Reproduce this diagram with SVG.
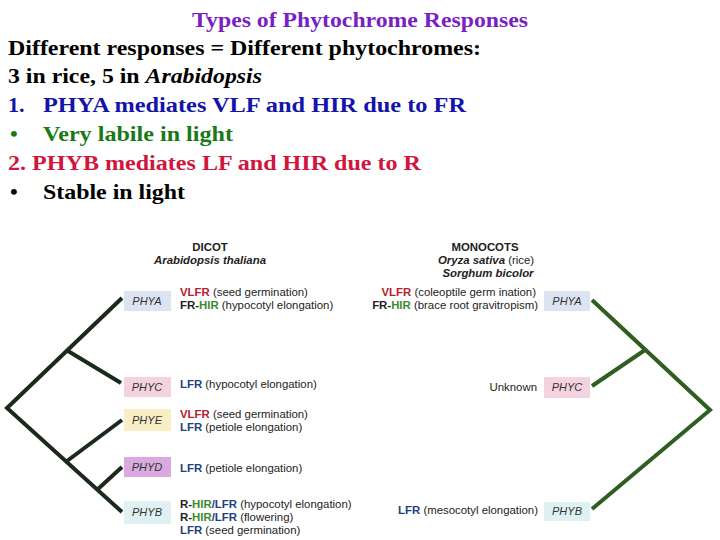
<svg xmlns="http://www.w3.org/2000/svg" width="720" height="540" viewBox="0 0 720 540">
<style>
.h{font-family:"Liberation Serif","Times New Roman",serif;font-weight:bold;font-size:22px}
.s{font-family:"Liberation Sans",Arial,sans-serif;font-size:11.4px;fill:#222}
.b{font-weight:bold}
.red{fill:#b3212d;font-weight:bold}
.grn{fill:#3d8a2e;font-weight:bold}
.blu{fill:#223f7f;font-weight:bold}
.blk{fill:#222;font-weight:bold}
.lab{font-family:"Liberation Sans",Arial,sans-serif;font-size:11px;font-style:italic;fill:#333;text-anchor:middle}
.lt{stroke:#1b2a1c;stroke-width:4;fill:none;stroke-linejoin:miter}
.rt{stroke:#2f5e22;stroke-width:4;fill:none;stroke-linejoin:miter}
</style>
<rect width="720" height="540" fill="#ffffff"/>
<g id="heading">
<text class="h" x="192" y="27" fill="#7a1fc4" textLength="336" lengthAdjust="spacingAndGlyphs">Types of Phytochrome Responses</text>
<text class="h" x="8" y="55" fill="#000" textLength="473" lengthAdjust="spacingAndGlyphs">Different responses = Different phytochromes:</text>
<text class="h" x="8" y="83" fill="#000" textLength="254" lengthAdjust="spacingAndGlyphs">3 in rice, 5 in <tspan font-style="italic">Arabidopsis</tspan></text>
<text class="h" x="8" y="112" fill="#1414a8">1.</text>
<text class="h" x="43" y="112" fill="#1414a8" textLength="423" lengthAdjust="spacingAndGlyphs">PHYA mediates VLF and HIR due to FR</text>
<text class="h" x="10" y="141" fill="#1a7a1a">•</text>
<text class="h" x="43" y="141" fill="#1a7a1a" textLength="190" lengthAdjust="spacingAndGlyphs">Very labile in light</text>
<text class="h" x="8" y="170" fill="#d0163e" textLength="413" lengthAdjust="spacingAndGlyphs">2. PHYB mediates LF and HIR due to R</text>
<text class="h" x="10" y="199" fill="#000">•</text>
<text class="h" x="43" y="199" fill="#000" textLength="142" lengthAdjust="spacingAndGlyphs">Stable in light</text>
</g>
<g id="connectors">
<polyline class="lt" points="122,298 7,408 122,512"/>
<line class="lt" x1="68" y1="351" x2="121" y2="383"/>
<line class="lt" x1="67" y1="461" x2="122" y2="420"/>
<line class="lt" x1="98" y1="489" x2="122" y2="467"/>
<polyline class="rt" points="592,300 710,410 592,509"/>
<line class="rt" x1="645" y1="350" x2="592" y2="386"/>
</g>
<g id="dicot-header">
<text class="s b" x="210" y="251" text-anchor="middle">DICOT</text>
<text class="s b" x="210" y="264" text-anchor="middle" font-style="italic">Arabidopsis thaliana</text>
</g>
<g id="monocot-header">
<text class="s b" x="485" y="251" text-anchor="middle">MONOCOTS</text>
<text class="s" x="486" y="264" text-anchor="middle"><tspan font-style="italic" font-weight="bold">Oryza sativa</tspan> (rice)</text>
<text class="s b" x="488" y="277" text-anchor="middle" font-style="italic">Sorghum bicolor</text>
</g>
<g id="dicot-phya">
<rect x="124" y="291" width="47" height="20" fill="#dce4f2"/>
<text class="lab" x="147" y="305">PHYA</text>
<text class="s" x="180" y="296"><tspan class="red">VLFR</tspan> (seed germination)</text>
<text class="s" x="180" y="309"><tspan class="blk">FR-</tspan><tspan class="grn">HIR</tspan> (hypocotyl elongation)</text>
</g>
<g id="dicot-phyc">
<rect x="124" y="377" width="47" height="20" fill="#f4d2e0"/>
<text class="lab" x="147" y="391">PHYC</text>
<text class="s" x="180" y="388"><tspan class="blu">LFR</tspan> (hypocotyl elongation)</text>
</g>
<g id="dicot-phye">
<rect x="124" y="409" width="47" height="22" fill="#f8efc6"/>
<text class="lab" x="147" y="424">PHYE</text>
<text class="s" x="180" y="418"><tspan class="red">VLFR</tspan> (seed germination)</text>
<text class="s" x="180" y="431"><tspan class="blu">LFR</tspan> (petiole elongation)</text>
</g>
<g id="dicot-phyd">
<rect x="124" y="457" width="47" height="20" fill="#d9a9df"/>
<text class="lab" x="147" y="471">PHYD</text>
<text class="s" x="180" y="472"><tspan class="blu">LFR</tspan> (petiole elongation)</text>
</g>
<g id="dicot-phyb">
<rect x="124" y="501" width="47" height="23" fill="#dff1f3"/>
<text class="lab" x="147" y="516">PHYB</text>
<text class="s" x="180" y="508"><tspan class="blk">R-</tspan><tspan class="grn">HIR</tspan><tspan class="blu">/LFR</tspan> (hypocotyl elongation)</text>
<text class="s" x="180" y="521"><tspan class="blk">R-</tspan><tspan class="grn">HIR</tspan><tspan class="blu">/LFR</tspan> (flowering)</text>
<text class="s" x="180" y="534"><tspan class="blu">LFR</tspan> (seed germination)</text>
</g>
<g id="monocot-phya">
<rect x="544" y="291" width="46" height="20" fill="#dce4f2"/>
<text class="lab" x="567" y="305">PHYA</text>
<text class="s" x="536" y="296" text-anchor="end"><tspan class="red">VLFR</tspan> (coleoptile germ ination)</text>
<text class="s" x="538" y="309" text-anchor="end"><tspan class="blk">FR-</tspan><tspan class="grn">HIR</tspan> (brace root gravitropism)</text>
</g>
<g id="monocot-phyc">
<rect x="544" y="377" width="46" height="21" fill="#f4d2e0"/>
<text class="lab" x="567" y="391">PHYC</text>
<text class="s" x="537" y="391" text-anchor="end">Unknown</text>
</g>
<g id="monocot-phyb">
<rect x="544" y="502" width="46" height="19" fill="#dff1f3"/>
<text class="lab" x="567" y="515">PHYB</text>
<text class="s" x="538" y="514" text-anchor="end"><tspan class="blu" font-weight="normal">LFR</tspan> (mesocotyl elongation)</text>
</g>
</svg>
